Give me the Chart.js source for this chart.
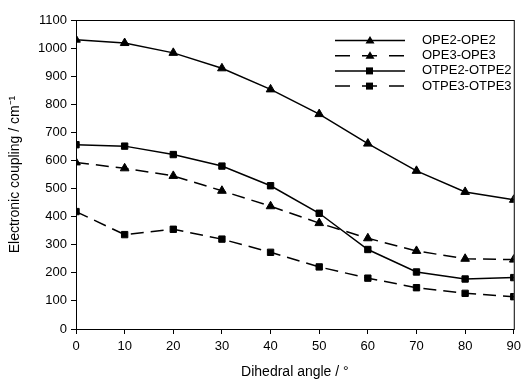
<!DOCTYPE html>
<html>
<head>
<meta charset="utf-8">
<script src="https://cdn.jsdelivr.net/npm/chart.js@4/dist/chart.umd.min.js"></script>
<style>
  html, body { margin: 0; padding: 0; background: #fff; }
  #wrap { width: 526px; height: 381px; }
</style>
</head>
<body>
<div id="wrap"><canvas id="chart" width="526" height="381"></canvas></div>
<script>
const angles = [0, 10, 20, 30, 40, 50, 60, 70, 80, 90];
const ope2 = [1030, 1018, 983, 928, 853, 765, 660, 563, 488, 460];
const ope3 = [593, 572, 545, 492, 437, 377, 323, 278, 250, 247];
const otpe2 = [656, 651, 621, 580, 510, 412, 283, 203, 178, 183];
const otpe3 = [418, 336, 355, 320, 273, 221, 181, 147, 127, 115];
const seriesNames = ['OPE2-OPE2', 'OPE3-OPE3', 'OTPE2-OTPE2', 'OTPE3-OTPE3'];

const FONT = 'Liberation Sans, Arial, sans-serif';
const dash = [13, 7];

function makeSet(name, values, shape, dashed) {
    return {
        label: name,
        data: values.map((v, i) => ({ x: angles[i], y: v })),
        borderColor: '#000',
        backgroundColor: '#000',
        borderWidth: 1.5,
        borderDash: dashed ? dash : [],
        pointStyle: shape,
        pointRadius: shape === 'triangle' ? 5 : 4.5,
        pointBorderWidth: 1,
        pointBackgroundColor: '#000',
        pointBorderColor: '#000',
        tension: 0
    };
}

// frame around plot + legend drawn like the original figure
const framePlugin = {
    id: 'frame',
    afterDatasetsDraw(chart) {
        const { ctx, chartArea: a } = chart;
        ctx.save();
        ctx.strokeStyle = '#000';
        ctx.lineWidth = 1;
        ctx.strokeRect(a.left + 0.5, a.top + 0.5, a.right - a.left, a.bottom - a.top);

        chart.data.datasets.forEach((ds, i) => {
            const y = 40.5 + i * 15.2;
            ctx.setLineDash(ds.borderDash.length ? [15, 12] : []);
            ctx.lineWidth = 1.5;
            ctx.beginPath();
            ctx.moveTo(335, y);
            ctx.lineTo(405, y);
            ctx.stroke();
            ctx.setLineDash([]);
            ctx.fillStyle = '#000';
            ctx.beginPath();
            if (ds.pointStyle === 'triangle') {
                ctx.moveTo(370, y - 4.5);
                ctx.lineTo(374.5, y + 3);
                ctx.lineTo(365.5, y + 3);
                ctx.closePath();
            } else {
                ctx.rect(366, y - 3.5, 7, 7);
            }
            ctx.fill();
            ctx.font = '13px ' + FONT;
            ctx.textBaseline = 'middle';
            ctx.fillText(ds.label, 422, y);
        });
        ctx.restore();
    }
};

new Chart(document.getElementById('chart'), {
    type: 'line',
    data: {
        datasets: [
            makeSet(seriesNames[0], ope2, 'triangle', false),
            makeSet(seriesNames[1], ope3, 'triangle', true),
            makeSet(seriesNames[2], otpe2, 'rect', false),
            makeSet(seriesNames[3], otpe3, 'rect', true)
        ]
    },
    options: {
        responsive: false,
        animation: false,
        layout: { padding: { left: 0, right: 9, top: 20, bottom: 0 } },
        plugins: {
            legend: { display: false },
            tooltip: { enabled: false }
        },
        scales: {
            x: {
                type: 'linear',
                min: 0,
                max: 90,
                afterFit: (s) => { s.height = 52; },
                ticks: { stepSize: 10, color: '#000', font: { family: FONT, size: 13 }, padding: 5 },
                grid: { drawOnChartArea: false, drawTicks: true, tickLength: 5, color: '#000' },
                border: { color: '#000' },
                title: { display: true, text: 'Dihedral angle / °', color: '#000', font: { family: FONT, size: 14 }, padding: { top: 0, bottom: 0 } }
            },
            y: {
                min: 0,
                max: 1100,
                afterFit: (s) => { s.width = 76; },
                ticks: { stepSize: 100, color: '#000', font: { family: FONT, size: 13 }, padding: 4, callback: (v) => String(v) },
                grid: { drawOnChartArea: false, drawTicks: true, tickLength: 5, color: '#000' },
                border: { color: '#000' },
                title: { display: true, text: 'Electronic coupling / cm⁻¹', color: '#000', font: { family: FONT, size: 14 }, padding: { top: 7, bottom: 0 } }
            }
        }
    },
    plugins: [framePlugin]
});
</script>
</body>
</html>
